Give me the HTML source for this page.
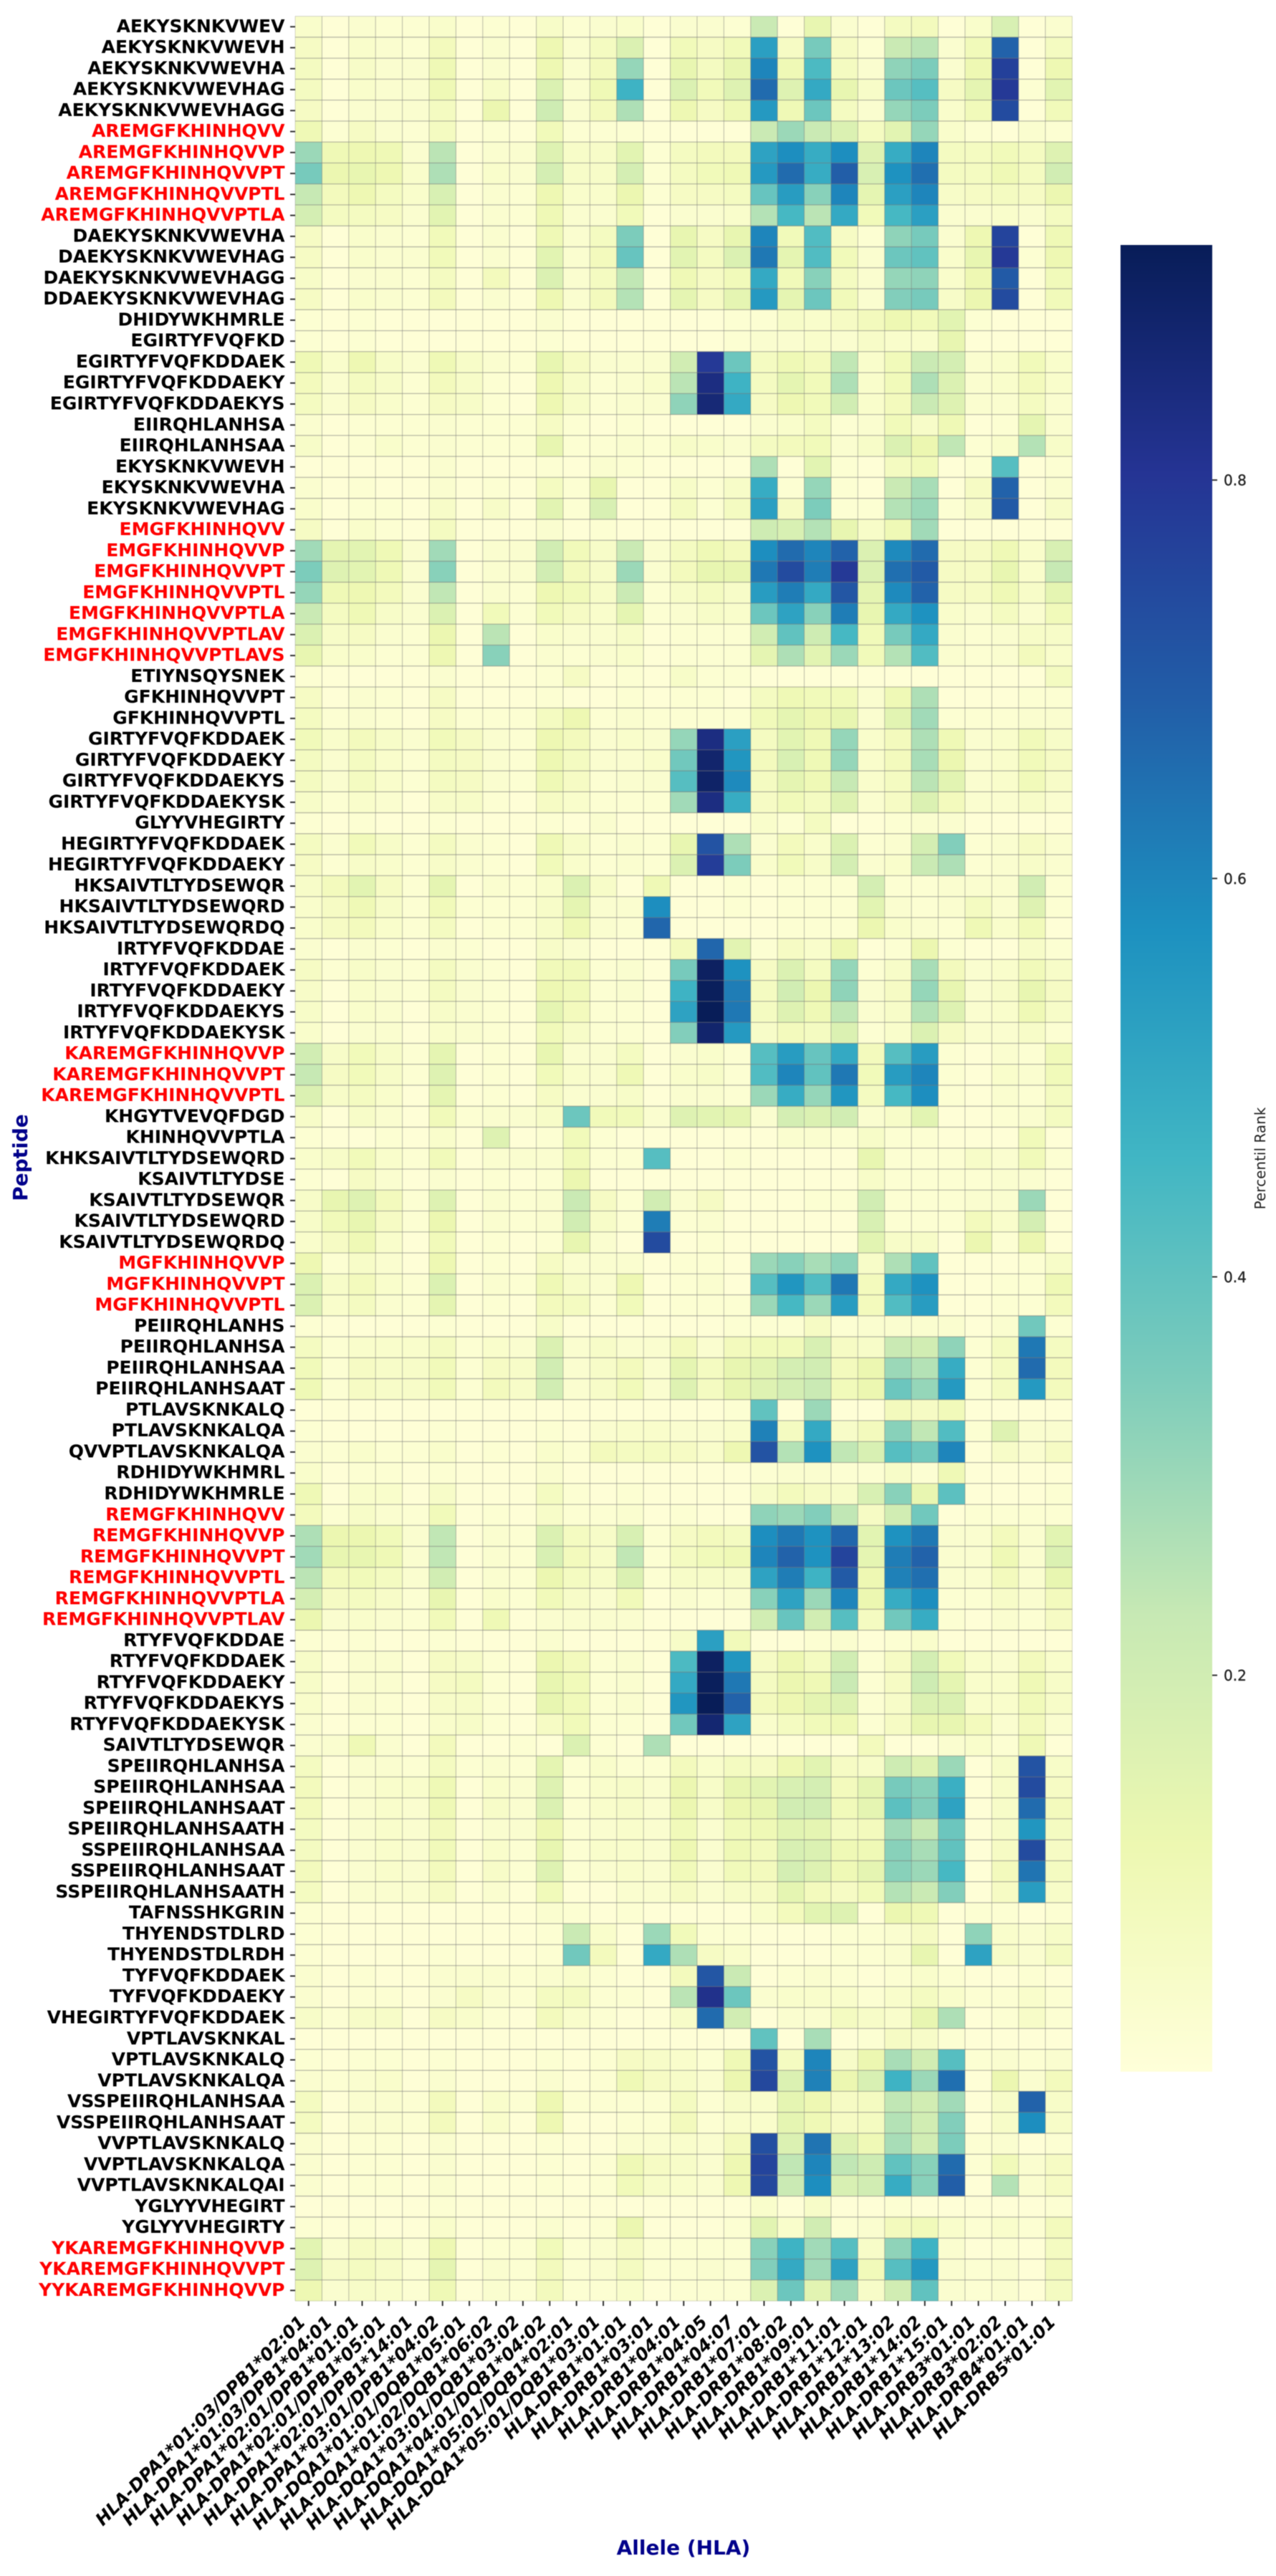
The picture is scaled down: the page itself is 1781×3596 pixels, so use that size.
<!DOCTYPE html>
<html lang="en">
<head>
<meta charset="utf-8">
<title>Peptide-HLA Percentile Rank Heatmap</title>
<style>
html,body{margin:0;padding:0;background:#fff;width:1781px;height:3596px;overflow:hidden}
svg{display:block;filter:blur(.45px)}
text{font-family:"DejaVu Sans","Liberation Sans",sans-serif}
</style>
</head>
<body>
<svg id="chart" xmlns="http://www.w3.org/2000/svg" width="1781" height="3596" viewBox="0 0 1781 3596">
<rect x="0" y="0" width="1781" height="3596" fill="#ffffff"/>
<defs>
<linearGradient id="cbar-gradient" x1="0" y1="1" x2="0" y2="0"></linearGradient>
</defs>
<g id="cells"></g>
<g id="grid"></g>
<g id="yaxis"></g>
<g id="xaxis"></g>
<text transform="translate(38,1616) rotate(-90)" text-anchor="middle" font-size="28" font-weight="700" fill="#00008b">Peptide</text>
<text x="954" y="3566" text-anchor="middle" font-size="28" font-weight="700" fill="#00008b">Allele (HLA)</text>
<g id="colorbar"></g>
<text transform="translate(1766,1617) rotate(-90)" text-anchor="middle" font-size="20" fill="#222">Percentil Rank</text>
</svg>
<script>
const peptides = ["AEKYSKNKVWEV","AEKYSKNKVWEVH","AEKYSKNKVWEVHA","AEKYSKNKVWEVHAG","AEKYSKNKVWEVHAGG","AREMGFKHINHQVV","AREMGFKHINHQVVP","AREMGFKHINHQVVPT","AREMGFKHINHQVVPTL","AREMGFKHINHQVVPTLA","DAEKYSKNKVWEVHA","DAEKYSKNKVWEVHAG","DAEKYSKNKVWEVHAGG","DDAEKYSKNKVWEVHAG","DHIDYWKHMRLE","EGIRTYFVQFKD","EGIRTYFVQFKDDAEK","EGIRTYFVQFKDDAEKY","EGIRTYFVQFKDDAEKYS","EIIRQHLANHSA","EIIRQHLANHSAA","EKYSKNKVWEVH","EKYSKNKVWEVHA","EKYSKNKVWEVHAG","EMGFKHINHQVV","EMGFKHINHQVVP","EMGFKHINHQVVPT","EMGFKHINHQVVPTL","EMGFKHINHQVVPTLA","EMGFKHINHQVVPTLAV","EMGFKHINHQVVPTLAVS","ETIYNSQYSNEK","GFKHINHQVVPT","GFKHINHQVVPTL","GIRTYFVQFKDDAEK","GIRTYFVQFKDDAEKY","GIRTYFVQFKDDAEKYS","GIRTYFVQFKDDAEKYSK","GLYYVHEGIRTY","HEGIRTYFVQFKDDAEK","HEGIRTYFVQFKDDAEKY","HKSAIVTLTYDSEWQR","HKSAIVTLTYDSEWQRD","HKSAIVTLTYDSEWQRDQ","IRTYFVQFKDDAE","IRTYFVQFKDDAEK","IRTYFVQFKDDAEKY","IRTYFVQFKDDAEKYS","IRTYFVQFKDDAEKYSK","KAREMGFKHINHQVVP","KAREMGFKHINHQVVPT","KAREMGFKHINHQVVPTL","KHGYTVEVQFDGD","KHINHQVVPTLA","KHKSAIVTLTYDSEWQRD","KSAIVTLTYDSE","KSAIVTLTYDSEWQR","KSAIVTLTYDSEWQRD","KSAIVTLTYDSEWQRDQ","MGFKHINHQVVP","MGFKHINHQVVPT","MGFKHINHQVVPTL","PEIIRQHLANHS","PEIIRQHLANHSA","PEIIRQHLANHSAA","PEIIRQHLANHSAAT","PTLAVSKNKALQ","PTLAVSKNKALQA","QVVPTLAVSKNKALQA","RDHIDYWKHMRL","RDHIDYWKHMRLE","REMGFKHINHQVV","REMGFKHINHQVVP","REMGFKHINHQVVPT","REMGFKHINHQVVPTL","REMGFKHINHQVVPTLA","REMGFKHINHQVVPTLAV","RTYFVQFKDDAE","RTYFVQFKDDAEK","RTYFVQFKDDAEKY","RTYFVQFKDDAEKYS","RTYFVQFKDDAEKYSK","SAIVTLTYDSEWQR","SPEIIRQHLANHSA","SPEIIRQHLANHSAA","SPEIIRQHLANHSAAT","SPEIIRQHLANHSAATH","SSPEIIRQHLANHSAA","SSPEIIRQHLANHSAAT","SSPEIIRQHLANHSAATH","TAFNSSHKGRIN","THYENDSTDLRD","THYENDSTDLRDH","TYFVQFKDDAEK","TYFVQFKDDAEKY","VHEGIRTYFVQFKDDAEK","VPTLAVSKNKAL","VPTLAVSKNKALQ","VPTLAVSKNKALQA","VSSPEIIRQHLANHSAA","VSSPEIIRQHLANHSAAT","VVPTLAVSKNKALQ","VVPTLAVSKNKALQA","VVPTLAVSKNKALQAI","YGLYYVHEGIRT","YGLYYVHEGIRTY","YKAREMGFKHINHQVVP","YKAREMGFKHINHQVVPT","YYKAREMGFKHINHQVVP"];
const highlightedPeptides = ["AREMGFKHINHQVV","AREMGFKHINHQVVP","AREMGFKHINHQVVPT","AREMGFKHINHQVVPTL","AREMGFKHINHQVVPTLA","EMGFKHINHQVV","EMGFKHINHQVVP","EMGFKHINHQVVPT","EMGFKHINHQVVPTL","EMGFKHINHQVVPTLA","EMGFKHINHQVVPTLAV","EMGFKHINHQVVPTLAVS","KAREMGFKHINHQVVP","KAREMGFKHINHQVVPT","KAREMGFKHINHQVVPTL","MGFKHINHQVVP","MGFKHINHQVVPT","MGFKHINHQVVPTL","REMGFKHINHQVV","REMGFKHINHQVVP","REMGFKHINHQVVPT","REMGFKHINHQVVPTL","REMGFKHINHQVVPTLA","REMGFKHINHQVVPTLAV","YKAREMGFKHINHQVVP","YKAREMGFKHINHQVVPT","YYKAREMGFKHINHQVVP"];
const alleles = ["HLA-DPA1*01:03/DPB1*02:01","HLA-DPA1*01:03/DPB1*04:01","HLA-DPA1*02:01/DPB1*01:01","HLA-DPA1*02:01/DPB1*05:01","HLA-DPA1*02:01/DPB1*14:01","HLA-DPA1*03:01/DPB1*04:02","HLA-DQA1*01:01/DQB1*05:01","HLA-DQA1*01:02/DQB1*06:02","HLA-DQA1*03:01/DQB1*03:02","HLA-DQA1*04:01/DQB1*04:02","HLA-DQA1*05:01/DQB1*02:01","HLA-DQA1*05:01/DQB1*03:01","HLA-DRB1*01:01","HLA-DRB1*03:01","HLA-DRB1*04:01","HLA-DRB1*04:05","HLA-DRB1*04:07","HLA-DRB1*07:01","HLA-DRB1*08:02","HLA-DRB1*09:01","HLA-DRB1*11:01","HLA-DRB1*12:01","HLA-DRB1*13:02","HLA-DRB1*14:02","HLA-DRB1*15:01","HLA-DRB3*01:01","HLA-DRB3*02:02","HLA-DRB4*01:01","HLA-DRB5*01:01"];
const colorbarTicks = [0.2,0.4,0.6,0.8];
const colormap = ["#ffffd9","#edf8b1","#c7e9b4","#7fcdbb","#41b6c4","#1d91c0","#225ea8","#253494","#081d58"];
const valueRange = [0.001,0.918];
/* Percentile rank × 100, one row per peptide, one column per allele */
const percentRank = [
[4,1,3,2,2,4,1,2,1,5,2,3,4,1,3,3,2,22,1,13,3,1,7,8,1,4,18,1,3],
[6,1,4,3,2,8,1,3,1,11,3,7,17,1,9,6,9,53,6,36,6,2,22,25,3,9,68,1,7],
[7,1,5,3,3,10,1,3,1,11,3,8,31,1,13,7,13,60,10,44,7,3,32,35,3,11,77,1,11],
[7,1,4,3,3,10,1,5,1,17,3,10,47,1,17,9,16,66,16,50,13,5,38,42,6,14,79,2,15],
[6,1,3,3,3,7,1,12,1,21,3,8,27,1,11,6,10,55,10,38,7,3,31,35,4,9,74,1,9],
[10,2,6,3,2,7,1,2,1,9,2,2,2,1,1,1,1,22,30,22,17,7,15,31,4,2,1,3,2],
[30,10,11,10,3,25,1,3,3,16,5,5,15,2,7,8,8,52,58,49,58,16,49,60,7,7,9,7,16],
[36,12,13,11,4,27,1,4,3,19,5,5,19,2,7,9,10,55,66,49,69,18,57,65,7,7,10,7,20],
[23,8,11,7,4,18,1,3,2,11,4,4,12,2,6,6,7,39,54,33,60,14,53,60,5,6,7,6,12],
[19,7,7,6,3,15,1,3,2,10,3,3,9,1,3,3,4,26,45,25,50,9,45,53,3,3,4,3,7],
[6,1,4,3,2,9,1,3,1,10,3,7,35,1,13,6,13,60,9,43,6,2,32,36,3,11,76,1,10],
[6,1,4,3,3,9,1,3,1,15,3,8,39,1,15,7,17,63,14,43,9,3,38,40,4,13,79,2,11],
[5,1,3,3,2,7,1,8,1,17,3,7,24,1,10,6,9,50,9,33,7,3,31,32,4,11,70,1,9],
[6,1,4,3,2,8,1,3,1,11,3,8,26,1,14,6,14,55,14,38,9,3,34,36,5,12,74,1,9],
[2,1,2,1,1,1,1,1,1,3,1,1,1,1,1,1,2,2,5,4,6,8,11,9,15,2,1,1,1],
[2,1,2,1,1,1,1,1,1,2,1,1,1,1,1,1,2,3,3,4,3,5,4,4,13,1,1,1,1],
[10,4,11,5,3,10,5,3,2,13,6,3,3,3,20,79,38,7,10,8,24,4,9,22,19,3,4,9,4],
[8,3,7,5,2,8,5,2,1,11,5,2,3,4,25,84,47,7,14,9,27,4,9,27,17,3,4,8,4],
[7,3,6,4,2,6,5,2,1,11,5,2,3,3,32,86,50,6,11,9,20,4,8,22,16,3,3,7,3],
[3,1,2,2,2,3,2,2,2,6,2,1,2,1,1,1,1,3,4,7,2,3,9,5,10,1,2,14,3],
[5,1,2,4,2,3,2,2,2,13,2,2,3,2,5,4,3,7,8,9,3,5,17,12,24,2,4,26,5],
[1,1,1,1,1,3,1,1,1,2,1,3,2,1,1,1,1,27,1,15,2,1,7,9,1,2,42,1,2],
[3,1,2,1,1,3,1,2,1,7,2,13,1,1,5,2,5,49,2,31,2,1,22,28,1,6,68,1,3],
[4,1,2,2,1,5,1,5,1,15,2,18,1,1,7,2,7,53,6,35,2,2,26,30,2,5,70,1,5],
[6,1,4,2,1,7,1,1,1,3,1,2,1,1,1,1,1,21,18,26,13,5,10,29,1,1,1,1,1],
[29,14,15,10,3,29,1,3,3,20,9,5,22,3,7,10,8,58,66,60,68,17,59,66,6,6,10,4,18],
[35,16,15,10,3,33,1,3,3,20,8,5,30,3,8,13,13,63,74,62,79,17,65,70,6,6,13,4,23],
[31,10,11,8,3,24,1,3,2,11,9,5,22,2,5,7,5,54,62,50,71,14,59,68,6,6,10,5,14],
[22,7,10,5,3,17,1,9,2,9,6,4,14,2,3,5,4,38,52,33,62,13,50,57,4,3,7,3,9],
[17,5,6,3,2,12,1,25,1,4,3,3,5,1,2,2,2,20,40,21,45,9,36,50,3,2,3,5,5],
[13,4,4,2,2,11,1,33,1,3,2,3,4,1,2,2,2,14,27,15,30,9,26,43,3,2,3,8,4],
[2,1,1,1,1,3,1,1,1,2,6,1,2,1,5,2,2,1,1,1,1,1,1,1,1,1,1,1,7],
[6,1,3,2,1,6,1,1,1,2,1,1,2,1,2,2,1,7,10,9,9,3,10,27,1,1,1,2,2],
[7,2,3,2,1,6,2,2,2,7,11,2,3,2,2,2,2,9,14,11,13,3,15,29,2,2,2,3,3],
[9,4,8,5,3,9,6,3,2,11,8,3,4,3,31,84,53,7,15,10,31,4,8,27,10,3,4,9,5],
[7,3,7,4,2,7,6,3,2,11,7,3,3,4,37,88,56,8,18,10,31,4,8,28,12,3,4,9,6],
[7,3,7,4,2,7,6,3,2,10,6,2,3,3,42,89,59,7,14,10,23,4,7,25,15,3,4,9,5],
[5,2,4,3,1,5,5,2,1,6,4,2,2,2,29,84,49,6,9,7,16,3,6,17,8,3,3,5,3],
[2,1,2,1,1,2,1,1,1,2,1,3,1,1,1,1,1,4,2,7,1,1,2,3,3,1,1,1,1],
[7,3,9,5,2,7,3,2,1,10,5,2,3,2,13,72,27,3,8,4,17,2,3,19,34,2,3,6,3],
[6,2,5,4,2,5,3,2,1,9,4,2,3,2,17,78,35,4,9,5,19,3,4,22,27,2,3,5,3],
[5,8,15,6,2,14,1,3,2,4,17,5,1,10,1,1,2,1,2,2,2,19,2,2,3,3,3,20,2],
[4,6,10,5,2,9,2,2,2,5,14,3,3,58,1,1,2,1,2,2,2,15,3,2,3,7,3,16,2],
[4,6,8,4,2,7,1,2,2,5,10,3,2,67,1,1,1,1,2,2,2,12,4,3,2,10,4,9,1],
[3,1,3,2,1,3,2,1,1,5,3,1,1,1,8,67,15,2,6,4,11,1,2,12,2,1,1,5,2],
[6,2,5,3,2,7,3,2,1,9,9,2,3,1,36,90,57,6,17,7,31,2,5,28,8,3,4,9,5],
[5,1,4,3,2,7,3,2,1,11,9,2,3,1,47,91,62,7,20,12,32,3,6,31,13,3,5,13,6],
[5,1,4,3,1,5,3,2,1,14,8,2,2,1,52,92,63,7,16,10,24,3,5,26,16,3,4,10,5],
[4,1,3,3,1,4,3,2,1,9,5,2,2,1,34,88,55,5,8,7,17,2,4,17,6,3,3,5,2],
[20,5,9,5,2,14,1,2,1,13,3,3,7,1,3,4,2,42,54,39,50,8,42,54,2,1,3,2,9],
[23,6,9,5,2,16,1,2,1,9,4,3,10,1,4,5,2,43,60,40,63,9,54,60,2,1,4,3,9],
[17,5,7,4,1,14,1,2,1,6,3,3,5,1,3,3,2,30,49,31,56,7,45,58,2,1,3,2,7],
[5,1,5,3,1,9,2,3,3,5,38,9,9,3,16,15,14,3,19,17,20,3,5,15,1,1,2,3,7],
[2,1,1,2,1,4,1,16,1,2,9,2,1,1,1,1,1,1,3,3,2,5,2,2,1,1,1,9,1],
[4,5,9,4,2,9,1,3,3,3,9,2,2,42,1,1,2,1,1,1,1,13,2,2,2,5,3,9,2],
[2,1,6,3,1,3,1,2,1,2,12,1,1,1,1,1,1,1,1,1,1,5,2,2,2,2,3,3,1],
[5,13,16,8,2,16,1,3,2,3,22,6,2,20,3,6,1,1,1,2,2,20,2,2,2,3,3,30,1],
[5,9,13,6,2,12,1,3,2,3,20,5,2,62,2,3,1,1,1,1,1,18,2,2,2,8,4,19,1],
[4,6,10,4,1,9,1,2,1,2,13,3,1,74,1,2,1,1,1,1,1,15,5,5,1,12,2,12,1],
[11,2,5,3,1,11,1,2,1,6,3,3,3,1,2,2,1,30,33,28,32,5,27,40,1,1,1,2,5],
[17,5,8,4,2,17,1,3,2,10,5,3,11,1,2,3,1,42,56,43,63,8,50,57,1,1,2,2,10],
[17,4,7,3,2,14,1,2,1,8,7,2,9,1,2,2,2,30,45,30,54,8,43,54,1,1,2,2,8],
[2,1,1,1,1,2,1,1,1,5,1,1,1,1,1,1,2,2,2,6,2,3,3,3,3,1,3,37,2],
[7,2,4,4,4,7,2,4,3,17,3,5,3,3,8,3,8,9,9,18,6,5,22,20,32,2,7,63,7],
[9,2,6,5,5,9,2,6,5,20,3,5,8,3,14,7,13,15,19,20,8,12,30,26,49,2,7,66,8],
[10,2,6,5,5,9,2,8,5,20,3,5,9,3,16,7,13,16,19,22,9,12,38,31,55,2,7,55,8],
[1,1,1,1,1,1,1,1,1,1,1,1,1,1,1,1,2,40,1,30,1,1,8,6,9,1,1,1,1],
[2,1,1,1,1,2,1,1,1,2,1,3,4,4,3,3,4,61,7,50,5,8,33,24,43,2,16,3,3],
[3,2,4,2,2,4,1,2,1,4,2,8,7,7,6,4,11,72,26,57,24,18,42,37,60,1,5,3,6],
[4,1,2,2,1,2,1,1,1,3,1,1,1,1,1,1,1,2,3,3,2,2,5,2,10,1,1,1,1],
[10,1,4,4,1,5,1,1,1,7,2,1,2,1,1,1,1,5,8,6,5,18,33,13,41,1,1,1,2],
[8,2,5,3,2,9,1,2,1,5,2,2,3,1,2,1,1,32,30,34,24,6,20,37,1,2,2,2,2],
[27,12,12,9,3,24,1,3,2,17,7,5,18,2,6,8,7,58,63,57,67,15,57,63,3,3,8,3,15],
[29,13,13,10,3,24,1,3,2,18,8,5,24,2,7,9,10,60,68,57,76,14,62,68,3,3,10,3,17],
[25,8,9,7,3,20,1,3,2,12,7,5,17,2,5,5,5,52,62,47,70,11,61,65,3,3,8,3,13],
[19,6,7,5,2,13,1,4,2,9,5,3,9,1,3,2,3,33,52,30,60,12,49,58,2,2,5,3,8],
[12,3,4,3,2,9,1,10,1,3,3,3,3,1,1,1,1,20,39,20,42,7,37,49,2,1,3,2,6],
[2,1,2,1,1,2,1,1,1,3,1,1,1,1,5,53,9,1,1,2,3,1,2,4,1,1,1,1,1],
[5,1,3,3,1,6,5,2,1,12,8,2,3,1,44,90,56,6,11,7,20,2,6,19,9,4,3,8,4],
[5,1,3,3,1,6,7,2,1,13,9,2,3,1,50,91,63,7,12,10,22,2,6,21,14,4,4,10,5],
[4,1,3,2,1,5,5,2,1,13,9,2,3,1,56,92,68,8,11,14,16,2,5,17,17,4,4,9,5],
[3,1,2,2,1,4,5,2,1,6,9,2,2,1,37,87,52,4,7,9,10,2,6,13,13,8,3,8,3],
[3,3,10,3,1,8,1,1,2,1,17,2,1,27,1,1,1,1,1,1,1,8,1,1,3,4,2,10,1],
[7,1,3,3,2,7,2,3,2,14,2,4,2,2,8,4,7,6,11,15,6,5,21,16,30,1,5,72,5],
[8,1,3,4,4,10,1,4,3,16,2,4,5,3,12,5,13,15,18,19,8,14,36,33,48,1,5,74,6],
[8,1,3,4,3,10,1,5,3,17,2,4,5,3,12,5,12,13,20,20,9,14,41,34,52,1,5,66,8],
[7,1,3,4,3,8,1,3,3,11,2,3,4,3,9,3,9,10,15,14,7,8,29,23,38,1,5,56,7],
[7,1,3,4,3,9,1,4,2,13,2,4,4,3,11,3,10,8,18,17,10,10,33,28,40,1,6,74,6],
[8,1,3,4,3,8,1,5,2,16,2,3,4,3,9,3,9,8,19,16,10,14,33,30,45,1,8,64,7],
[7,1,3,3,3,6,1,3,1,9,1,1,3,3,6,3,5,6,14,8,6,9,26,22,34,1,6,54,5],
[2,1,1,1,1,1,1,1,1,3,2,1,2,1,1,1,1,4,8,15,16,1,12,10,1,2,2,1,2],
[2,1,1,1,1,1,1,1,1,2,22,4,1,30,9,2,2,1,1,1,2,2,3,6,1,32,4,3,5],
[2,1,1,1,1,2,1,1,1,2,37,8,1,50,27,6,4,1,1,1,2,2,3,13,1,52,5,3,7],
[3,1,2,1,1,3,3,3,2,3,4,2,1,1,8,71,22,1,2,3,2,1,2,4,2,1,1,2,1],
[3,1,2,2,1,3,6,3,2,7,7,2,2,1,25,82,38,3,4,4,4,2,4,7,4,2,2,4,2],
[5,2,5,5,1,6,4,2,1,8,4,2,1,1,5,66,20,1,3,3,7,5,4,13,27,1,2,5,2],
[1,1,1,1,1,1,1,1,1,1,1,1,1,1,1,1,1,40,1,28,1,2,6,5,2,1,1,1,1],
[2,1,2,2,1,2,1,1,1,2,1,2,6,5,4,2,10,72,7,60,5,12,28,20,42,2,3,2,3],
[3,2,3,4,1,3,1,1,1,3,1,2,10,6,5,3,12,75,17,61,12,18,47,30,65,1,12,3,8],
[7,1,3,3,2,8,1,4,2,11,2,2,2,2,7,2,5,4,14,11,6,7,24,20,29,1,5,68,5],
[7,1,3,3,2,8,1,4,1,11,1,1,2,2,8,2,4,4,14,10,6,7,26,20,34,1,5,58,5],
[3,1,2,2,1,3,1,1,1,2,1,1,3,3,4,3,8,73,17,64,16,10,28,20,35,2,3,1,2],
[3,1,2,2,1,3,1,1,1,2,1,2,10,6,5,3,11,76,24,60,24,21,40,33,66,2,9,3,6],
[3,1,2,2,1,3,1,1,1,2,1,2,9,5,4,3,11,75,22,58,18,20,49,33,69,1,26,3,6],
[1,1,1,1,1,2,1,1,1,1,1,1,1,1,1,1,1,4,1,5,1,1,2,1,1,1,1,1,2],
[2,1,2,1,1,4,1,1,1,3,1,2,12,1,1,1,2,15,4,20,2,3,8,9,4,2,4,2,8],
[15,3,6,5,2,11,1,2,2,9,2,3,6,2,2,2,2,33,47,29,42,5,32,47,3,1,2,1,7],
[16,5,7,5,2,14,1,3,2,8,2,3,7,2,2,3,2,34,50,29,52,9,42,55,3,2,3,1,8],
[11,3,5,4,2,10,1,3,2,8,2,2,4,1,2,2,2,17,38,15,29,5,20,40,3,2,3,1,7]
];

const NS = "http://www.w3.org/2000/svg";
const plot = {left:412, right:1496.5, top:22.7, bottom:3212};
const bar = {left:1564, right:1692, top:342, bottom:2892};

function xBand(c){ return plot.left + (plot.right - plot.left) * c / alleles.length; }
function yBand(r){ return plot.top + (plot.bottom - plot.top) * r / peptides.length; }
function yBar(v){ return bar.bottom - (bar.bottom - bar.top) * (v - valueRange[0]) / (valueRange[1] - valueRange[0]); }
function hexRgb(h){ return [1,3,5].map(function(i){ return parseInt(h.substr(i,2),16); }); }
function colorFor(v){
  var t = Math.max(0, Math.min(1, (v - valueRange[0]) / (valueRange[1] - valueRange[0])));
  var p = t * (colormap.length - 1), i = Math.min(colormap.length - 2, Math.floor(p)), f = p - i;
  var a = hexRgb(colormap[i]), b = hexRgb(colormap[i + 1]);
  return "rgb(" + a.map(function(x, k){ return Math.round(x + (b[k] - x) * f); }).join(",") + ")";
}
function make(tag, parent){
  var el = document.createElementNS(NS, tag);
  parent.appendChild(el);
  return el;
}

var cellsG = document.getElementById("cells");
percentRank.forEach(function(row, r){
  row.forEach(function(val, c){
    var cell = make("rect", cellsG);
    
    
    cell.setAttribute("x", xBand(c));
    cell.setAttribute("y", yBand(r));
    cell.setAttribute("width", xBand(c + 1) - xBand(c) + 0.3);
    cell.setAttribute("height", yBand(r + 1) - yBand(r) + 0.3);
    cell.setAttribute("fill", colorFor(val / 100));
  });
});

var gridG = document.getElementById("grid");
for (var c = 0; c <= alleles.length; c++) {
  var vl = make("line", gridG);
  
  
  vl.setAttribute("x1", xBand(c)); vl.setAttribute("x2", xBand(c));
  vl.setAttribute("y1", plot.top); vl.setAttribute("y2", plot.bottom);
  vl.setAttribute("stroke", "rgba(120,120,120,.5)");
  vl.setAttribute("stroke-width", (c === 0 || c === alleles.length) ? 0.6 : 1);
}
for (var r = 0; r <= peptides.length; r++) {
  var hl = make("line", gridG);
  
  
  hl.setAttribute("x1", plot.left); hl.setAttribute("x2", plot.right);
  hl.setAttribute("y1", yBand(r)); hl.setAttribute("y2", yBand(r));
  hl.setAttribute("stroke", "rgba(120,120,120,.5)");
  hl.setAttribute("stroke-width", (r === 0 || r === peptides.length) ? 0.6 : 1.3);
}

var yG = document.getElementById("yaxis");
peptides.forEach(function(p, r){
  var cy = (yBand(r) + yBand(r + 1)) / 2;
  var tick = make("line", yG);
  
  
  tick.setAttribute("x1", 405); tick.setAttribute("x2", 412);
  tick.setAttribute("y1", cy); tick.setAttribute("y2", cy);
  tick.setAttribute("stroke", "#333"); tick.setAttribute("stroke-width", 2);
  var label = make("text", yG);
  
  
  label.setAttribute("x", 397.5);
  label.setAttribute("y", cy + 7.5);
  label.setAttribute("text-anchor", "end");
  label.setAttribute("font-size", 25);
  label.setAttribute("font-weight", 700);
  label.setAttribute("fill", highlightedPeptides.indexOf(p) >= 0 ? "#ff0000" : "#000000");
  label.textContent = p;
});

var xG = document.getElementById("xaxis");
alleles.forEach(function(a, c){
  var cx = (xBand(c) + xBand(c + 1)) / 2;
  var tick = make("line", xG);
  
  
  tick.setAttribute("x1", cx); tick.setAttribute("x2", cx);
  tick.setAttribute("y1", plot.bottom); tick.setAttribute("y2", plot.bottom + 7);
  tick.setAttribute("stroke", "#333"); tick.setAttribute("stroke-width", 2);
  var label = make("text", xG);
  
  
  label.setAttribute("transform", "translate(" + (cx - 3) + ",3243) rotate(-45)");
  label.setAttribute("text-anchor", "end");
  label.setAttribute("font-size", 24.5);
  label.setAttribute("font-weight", 700);
  label.setAttribute("font-style", "italic");
  label.setAttribute("fill", "#000000");
  label.textContent = a;
});

var grad = document.getElementById("cbar-gradient");
colormap.forEach(function(col, i){
  var stop = make("stop", grad);
  stop.setAttribute("offset", i / (colormap.length - 1));
  stop.setAttribute("stop-color", col);
});
var cbG = document.getElementById("colorbar");
var cbRect = make("rect", cbG);


cbRect.setAttribute("x", bar.left);
cbRect.setAttribute("y", bar.top);
cbRect.setAttribute("width", bar.right - bar.left);
cbRect.setAttribute("height", bar.bottom - bar.top);
cbRect.setAttribute("fill", "url(#cbar-gradient)");
colorbarTicks.forEach(function(v){
  var y = yBar(v);
  var t = make("line", cbG);
  
  
  t.setAttribute("x1", bar.right); t.setAttribute("x2", bar.right + 7);
  t.setAttribute("y1", y); t.setAttribute("y2", y);
  t.setAttribute("stroke", "#333"); t.setAttribute("stroke-width", 2);
  var l = make("text", cbG);
  
  
  l.setAttribute("x", 1708);
  l.setAttribute("y", y + 7.5);
  l.setAttribute("font-size", 20);
  l.setAttribute("fill", "#222");
  l.setAttribute("stroke", "#333");
  l.setAttribute("stroke-width", 0.4);
  l.textContent = v.toFixed(1);
});
</script>
</body>
</html>
